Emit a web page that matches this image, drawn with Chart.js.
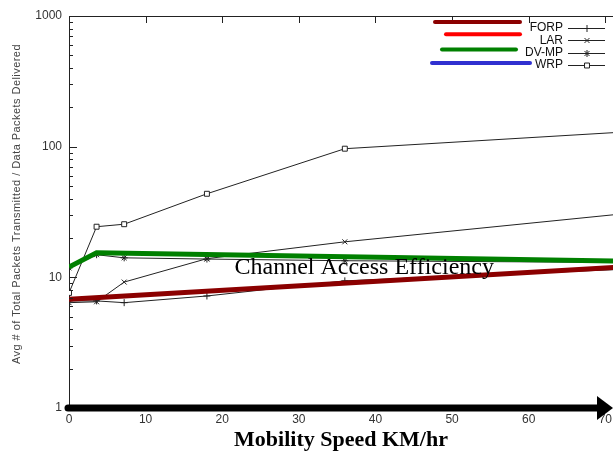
<!DOCTYPE html>
<html>
<head>
<meta charset="utf-8">
<script src="https://cdn.jsdelivr.net/npm/chart.js@4.4.0/dist/chart.umd.min.js"></script>
<style>
  html, body { margin:0; padding:0; background:#fff; }
  canvas { display:block; }
</style>
</head>
<body>
<canvas id="chart" width="613" height="459"></canvas>
<script>
// gnuplot series (black), mobility speed in km/hr
const speeds = [0, 3.6, 7.2, 18, 36, 72];
const forp = [6.6, 6.6, 6.4, 7.2, 9.4, 11.5];
const lar = [6.4, 6.5, 9.2, 13.9, 18.7, 30.5];
const dvmp = [11.8, 14.9, 14.1, 13.8, 13.4, 13.0];
const wrp = [7.6, 24.4, 25.5, 43.6, 96.5, 129];

// coloured lines drawn over the plot
const forpLineX = [0, 72];
const forpLineY = [6.8, 12.0];
const dvmpLineX = [0, 3.6, 72];
const dvmpLineY = [12.0, 15.4, 13.3];

const seriesNames = ['FORP', 'LAR', 'DV-MP', 'WRP'];
const seriesMarks = ['cross', 'crossRot', 'star', 'rect'];
const overlayColors = ['#8b0000', '#ff0000', '#008000', '#3030d0'];

const xTicks = [0, 10, 20, 30, 40, 50, 60, 70];
const yTicks = [1, 10, 100, 1000];
const note = 'Channel Access Efficiency';
const yTitle = 'Avg # of Total Packets Transmitted / Data Packets Delivered';

const ink = '#222';
const pts = (xs, ys) => xs.map((x, i) => ({x: x, y: ys[i]}));

// legend overlay strokes: [start, end, dy] relative to plot right / label row
const overlaySpan = [[-178, -93, -6], [-167, -93, -6], [-171, -97, -3], [-181, -83, -2]];

const gnuplotBits = {
  id: 'gnuplotBits',
  afterDatasetsDraw(chart) {
    const {ctx, chartArea: a, scales: {x, y}} = chart;
    ctx.save();
    ctx.strokeStyle = ink;
    ctx.lineWidth = 1;

    // top border + inward ticks
    ctx.beginPath();
    ctx.moveTo(a.left, a.top + 0.5);
    ctx.lineTo(a.right, a.top + 0.5);
    xTicks.forEach(v => {
      const px = Math.round(x.getPixelForValue(v)) + 0.5;
      ctx.moveTo(px, a.top);
      ctx.lineTo(px, a.top + 7);
    });
    for (let d = 0; d < 3; d++) {
      for (let m = 1; m < 10; m++) {
        const py = Math.round(y.getPixelForValue(m * Math.pow(10, d))) + 0.5;
        ctx.moveTo(a.left, py);
        ctx.lineTo(a.left + (m === 1 ? 8 : 4), py);
      }
    }
    const pTop = Math.round(y.getPixelForValue(1000)) + 0.5;
    ctx.moveTo(a.left, pTop);
    ctx.lineTo(a.left + 8, pTop);
    ctx.stroke();

    // y axis title (spaced out like the postscript original)
    ctx.save();
    ctx.translate(17, (a.top + a.bottom) / 2 - 8);
    ctx.rotate(-Math.PI / 2);
    ctx.fillStyle = '#444';
    ctx.font = '11px "Liberation Sans"';
    ctx.letterSpacing = '0.45px';
    ctx.textAlign = 'center';
    ctx.textBaseline = 'middle';
    ctx.fillText(yTitle, 0, 0);
    ctx.restore();

    // note in the plot
    ctx.fillStyle = '#000';
    ctx.font = '24px "Liberation Serif"';
    ctx.textAlign = 'left';
    ctx.textBaseline = 'middle';
    ctx.fillText(note, x.getPixelForValue(21.6), y.getPixelForValue(11.8));

    // legend
    const labRight = a.right - 50;
    seriesNames.forEach((name, i) => {
      const ty = a.top + 12 + i * 12.3;
      const ly = Math.round(ty) + 0.5;
      ctx.fillStyle = '#111';
      ctx.font = '12px "Liberation Sans"';
      ctx.textAlign = 'right';
      ctx.textBaseline = 'middle';
      ctx.fillText(name, labRight, ty);
      ctx.strokeStyle = ink;
      ctx.lineWidth = 1;
      ctx.beginPath();
      ctx.moveTo(labRight + 5, ly);
      ctx.lineTo(labRight + 42, ly);
      ctx.stroke();
      ctx.fillStyle = '#fff';
      Chart.helpers.drawPoint(ctx, {pointStyle: seriesMarks[i], radius: 3.5, borderWidth: 1, rotation: 0},
        labRight + 24, ly);
      const [s, e, dy] = overlaySpan[i];
      ctx.strokeStyle = overlayColors[i];
      ctx.lineWidth = 4;
      ctx.lineCap = 'round';
      ctx.beginPath();
      ctx.moveTo(a.right + s, ty + dy);
      ctx.lineTo(a.right + e, ty + dy);
      ctx.stroke();
      ctx.lineCap = 'butt';
    });

    // thick arrow along the x axis
    const yb = a.bottom;
    ctx.strokeStyle = '#000';
    ctx.fillStyle = '#000';
    ctx.lineWidth = 7;
    ctx.lineCap = 'round';
    ctx.beginPath();
    ctx.moveTo(a.left - 1, yb);
    ctx.lineTo(a.right - 12, yb);
    ctx.stroke();
    ctx.beginPath();
    ctx.moveTo(a.right, yb);
    ctx.lineTo(a.right - 16, yb - 12);
    ctx.lineTo(a.right - 16, yb + 12);
    ctx.closePath();
    ctx.fill();
    ctx.restore();
  }
};

const black = (data, mark) => ({
  data: pts(speeds, data),
  borderColor: ink,
  borderWidth: 1,
  pointStyle: mark,
  pointRadius: 3.5,
  pointBorderColor: ink,
  pointBackgroundColor: '#fff',
  pointBorderWidth: 1
});

new Chart(document.getElementById('chart'), {
  type: 'line',
  data: {
    datasets: [
      {data: pts(forpLineX, forpLineY), borderColor: '#8b0000', borderWidth: 5, pointRadius: 0},
      {data: pts(dvmpLineX, dvmpLineY), borderColor: '#008000', borderWidth: 5, pointRadius: 0},
      black(forp, seriesMarks[0]),
      black(lar, seriesMarks[1]),
      black(dvmp, seriesMarks[2]),
      black(wrp, seriesMarks[3])
    ]
  },
  options: {
    responsive: false,
    animation: false,
    devicePixelRatio: 1,
    layout: {autoPadding: false, padding: {top: 16, right: 0, left: 0, bottom: 0}},
    plugins: {legend: {display: false}, tooltip: {enabled: false}},
    scales: {
      x: {
        type: 'linear', min: 0, max: 71,
        grid: {display: false, drawTicks: false},
        border: {display: false},
        afterBuildTicks: s => { s.ticks = xTicks.map(v => ({value: v})); },
        afterFit: s => { s.height = 51; s.paddingRight = 0; s.paddingLeft = 0; },
        ticks: {padding: 4, autoSkip: false, maxRotation: 0, color: '#333',
                font: {family: 'Liberation Sans', size: 12}},
        title: {display: true, text: 'Mobility Speed KM/hr', color: '#000',
                font: {family: 'Liberation Serif', size: 22, weight: 'bold'},
                padding: {top: 0, bottom: 5}}
      },
      y: {
        type: 'logarithmic', min: 1, max: 1000,
        grid: {display: false, drawTicks: false},
        border: {display: true, color: ink, width: 1},
        afterBuildTicks: s => { s.ticks = yTicks.map(v => ({value: v})); },
        afterFit: s => { s.width = 69; },
        ticks: {padding: 7, autoSkip: false, color: '#333', callback: v => String(v),
                font: {family: 'Liberation Sans', size: 12}}
      }
    }
  },
  plugins: [gnuplotBits]
});
</script>
</body>
</html>
